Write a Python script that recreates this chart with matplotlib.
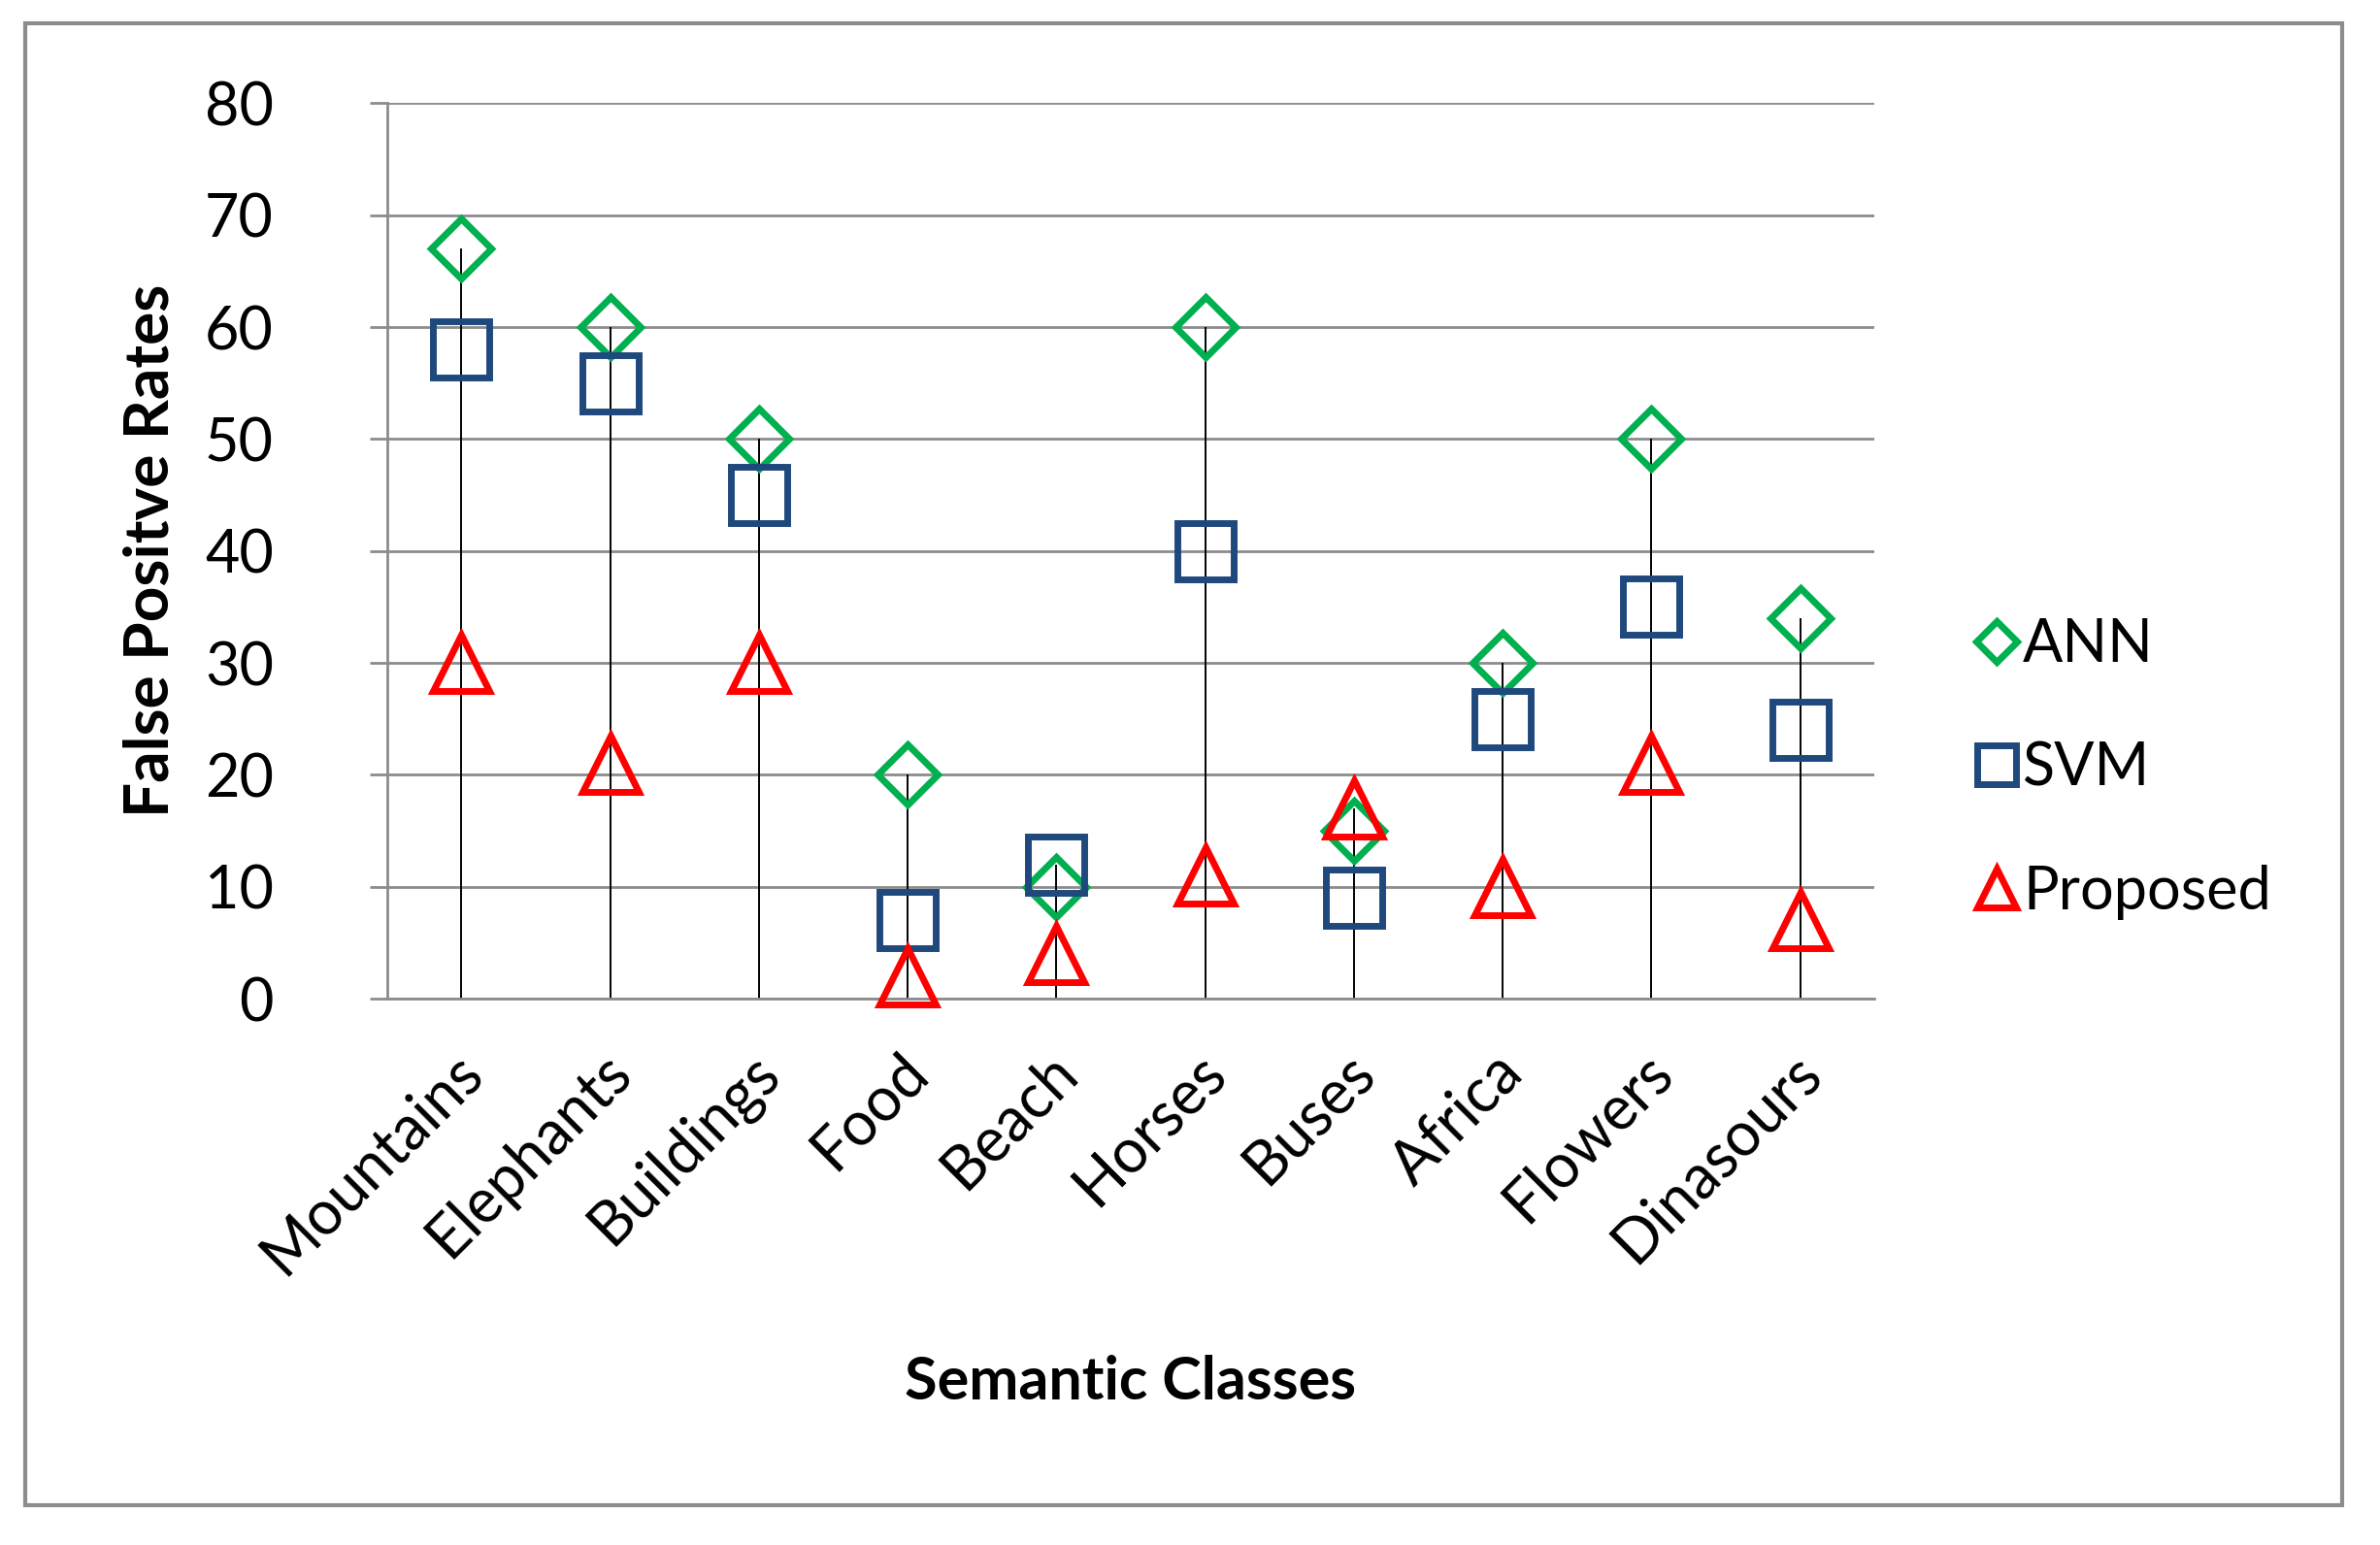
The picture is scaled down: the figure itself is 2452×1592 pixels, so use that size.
import matplotlib
matplotlib.use('Agg')
import matplotlib.pyplot as plt
from matplotlib.patches import Rectangle
from matplotlib.transforms import ScaledTranslation

# Data
classes = ['Mountains', 'Elephants', 'Buildings', 'Food', 'Beach',
           'Horses', 'Buses', 'Africa', 'Flowers', 'Dinasours']
ann = [67, 60, 50, 20, 10, 60, 15, 30, 50, 34]
svm = [58, 55, 45, 7, 12, 40, 9, 25, 35, 24]
proposed = [30, 21, 30, 2, 4, 11, 17, 10, 21, 7]

plt.rcParams['font.family'] = ['Lato', 'DejaVu Sans']

grid_col = '#8c8c8c'
green = '#00B050'
blue = '#1F497D'
red = '#FF0000'

fig = plt.figure(figsize=(24.52, 15.92), dpi=100)
ax = fig.add_axes([0.1626, 0.3536, 0.625, 0.5796])

x = list(range(len(classes)))
tops = [max(a, s, p) for a, s, p in zip(ann, svm, proposed)]

# drop lines from the highest value of each class
ax.vlines(x, 0, tops, color='black', linewidth=1.4, zorder=2)

ax.plot(x, ann, linestyle='none', marker='D', markersize=32,
        markerfacecolor='none', markeredgecolor=green, markeredgewidth=5,
        label='ANN', zorder=3, clip_on=False)
ax.plot(x, svm, linestyle='none', marker='s', markersize=42,
        markerfacecolor='none', markeredgecolor=blue, markeredgewidth=5,
        label='SVM', zorder=3, clip_on=False)
ax.plot(x, proposed, linestyle='none', marker='^', markersize=42,
        markerfacecolor='none', markeredgecolor=red, markeredgewidth=5,
        label='Proposed', zorder=3, clip_on=False)

ax.set_xlim(-0.5, len(classes) - 0.5)
ax.set_ylim(0, 80)
ax.set_yticks(range(0, 81, 10))
ax.yaxis.grid(True, color=grid_col, linewidth=2)
ax.set_axisbelow(True)

for side in ['top', 'right']:
    ax.spines[side].set_visible(False)
ax.spines['left'].set_color(grid_col)
ax.spines['left'].set_linewidth(2)
ax.spines['bottom'].set_color(grid_col)
ax.spines['bottom'].set_linewidth(2)

ax.tick_params(axis='y', direction='out', length=13, width=2,
               color=grid_col, labelsize=44, pad=71)
ax.tick_params(axis='x', length=0, labelsize=45, pad=33)
ax.set_xticks(x)
ax.set_xticklabels(classes, rotation=45, ha='right', va='top',
                   rotation_mode='anchor')
shift = ScaledTranslation(-0.09, 0, fig.dpi_scale_trans)
for lab in ax.get_xticklabels():
    lab.set_transform(lab.get_transform() + shift)

ax.set_ylabel('False Positve Rates', fontsize=46, fontweight='bold',
              labelpad=20)
ax.set_xlabel('Semantic Classes', fontsize=44, fontweight='bold',
              labelpad=52)

leg = ax.legend(loc='center left', bbox_to_anchor=(1.034, 0.257),
                frameon=False, fontsize=44, markerscale=0.68,
                handlelength=0.6, handletextpad=0.15, labelspacing=1.15)

# outer chart border
fig.patches.append(Rectangle((0.0108, 0.0258), 0.9732, 0.9594,
                             transform=fig.transFigure, fill=False,
                             edgecolor='#8c8c8c', linewidth=3))

fig.savefig('out.png', dpi=100)
